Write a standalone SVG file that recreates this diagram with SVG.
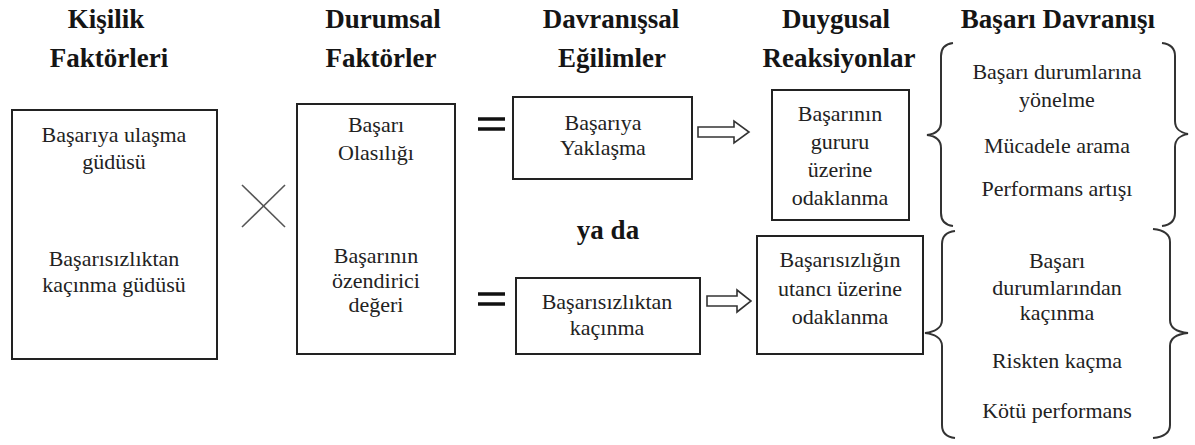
<svg xmlns="http://www.w3.org/2000/svg" width="1195" height="445" viewBox="0 0 1195 445">
<style>
text{font-family:"Times New Roman",Times,"Liberation Serif",Tinos,"Noto Serif","DejaVu Serif",FreeSerif,serif;text-anchor:middle}
.h{font-weight:bold;font-size:27px;fill:#151515}
.t{font-size:22px;fill:#222}
.box{fill:#fff;stroke:#222;stroke-width:2}
.br{fill:none;stroke:#333;stroke-width:2}
.eq{stroke:#111;stroke-width:3.5}
.ar{fill:#fff;stroke:#333;stroke-width:1.6;stroke-linejoin:miter}
.x{stroke:#555;stroke-width:1.6}
</style>
<rect width="1195" height="445" fill="#fff"/>
<g id="headers">
<text class="h" x="106" y="28">Kişilik</text>
<text class="h" x="109" y="67">Faktörleri</text>
<text class="h" x="383" y="28">Durumsal</text>
<text class="h" x="381" y="67">Faktörler</text>
<text class="h" x="611" y="28">Davranışsal</text>
<text class="h" x="612" y="67">Eğilimler</text>
<text class="h" x="836" y="28">Duygusal</text>
<text class="h" x="839" y="67">Reaksiyonlar</text>
<text class="h" x="1058" y="28">Başarı Davranışı</text>
</g>
<g id="kisilik">
<rect class="box" x="12" y="110" width="205" height="249"/>
<text class="t" x="114" y="142">Başarıya ulaşma</text>
<text class="t" x="114" y="169">güdüsü</text>
<text class="t" x="114" y="266">Başarısızlıktan</text>
<text class="t" x="114" y="292">kaçınma güdüsü</text>
</g>
<g id="durumsal">
<rect class="box" x="297" y="104" width="158" height="250"/>
<text class="t" x="376" y="132">Başarı</text>
<text class="t" x="376" y="160">Olasılığı</text>
<text class="t" x="376" y="263">Başarının</text>
<text class="t" x="376" y="288">özendirici</text>
<text class="t" x="376" y="312">değeri</text>
</g>
<g id="yaklasma">
<rect class="box" x="513" y="97" width="179" height="82"/>
<text class="t" x="603" y="130">Başarıya</text>
<text class="t" x="603" y="155">Yaklaşma</text>
</g>
<g id="kacinma">
<rect class="box" x="516" y="278" width="184" height="76"/>
<text class="t" x="607" y="309">Başarısızlıktan</text>
<text class="t" x="607" y="335">kaçınma</text>
</g>
<g id="gurur">
<rect class="box" x="772" y="90" width="137" height="130"/>
<text class="t" x="840" y="121">Başarının</text>
<text class="t" x="840" y="149">gururu</text>
<text class="t" x="840" y="177">üzerine</text>
<text class="t" x="840" y="205">odaklanma</text>
</g>
<g id="utanc">
<rect class="box" x="757" y="236" width="166" height="118"/>
<text class="t" x="840" y="267">Başarısızlığın</text>
<text class="t" x="840" y="296">utancı üzerine</text>
<text class="t" x="840" y="324">odaklanma</text>
</g>
<g id="ya-da">
<text class="h" x="608" y="239">ya da</text>
</g>
<g id="basari-yonelme">
<text class="t" x="1057" y="79">Başarı durumlarına</text>
<text class="t" x="1057" y="107">yönelme</text>
<text class="t" x="1057" y="153">Mücadele arama</text>
<text class="t" x="1057" y="196">Performans artışı</text>
</g>
<g id="basari-kacinma">
<text class="t" x="1057" y="268">Başarı</text>
<text class="t" x="1057" y="295">durumlarından</text>
<text class="t" x="1057" y="320">kaçınma</text>
<text class="t" x="1057" y="368">Riskten kaçma</text>
<text class="t" x="1057" y="418">Kötü performans</text>
</g>
<g id="connectors">
<line class="x" x1="242" y1="185" x2="285" y2="227"/>
<line class="x" x1="242" y1="227" x2="285" y2="185"/>
<line class="eq" x1="478" y1="119" x2="505" y2="119"/>
<line class="eq" x1="478" y1="129" x2="505" y2="129"/>
<line class="eq" x1="478" y1="294" x2="505" y2="294"/>
<line class="eq" x1="478" y1="304" x2="505" y2="304"/>
<polygon class="ar" points="698,127 734,127 734,121 749,132 734,143 734,137 698,137"/>
<polygon class="ar" points="707,296 737,296 737,290 751,301 737,312 737,306 707,306"/>
<path class="br" d="M953,43 C945,44 941,48 941,56 L941,122 C941,130 935,134 927,135 C935,136 941,140 941,148 L941,213 C941,221 945,225 953,226"/>
<path class="br" d="M1162,43 C1170,44 1175,48 1175,56 L1175,121 C1175,129 1181,133 1188,134 C1181,135 1175,139 1175,147 L1175,213 C1175,221 1170,225 1162,226"/>
<path class="br" d="M955,231 C946,232 942,236 942,244 L942,320 C942,328 934,332 925,333 C934,334 942,338 942,346 L942,425 C942,433 946,437 955,438"/>
<path class="br" d="M1153,229 C1163,230 1170,234 1170,242 L1170,320 C1170,328 1178,332 1188,333 C1178,334 1170,338 1170,346 L1170,425 C1170,433 1163,437 1153,438"/>
</g>
</svg>
